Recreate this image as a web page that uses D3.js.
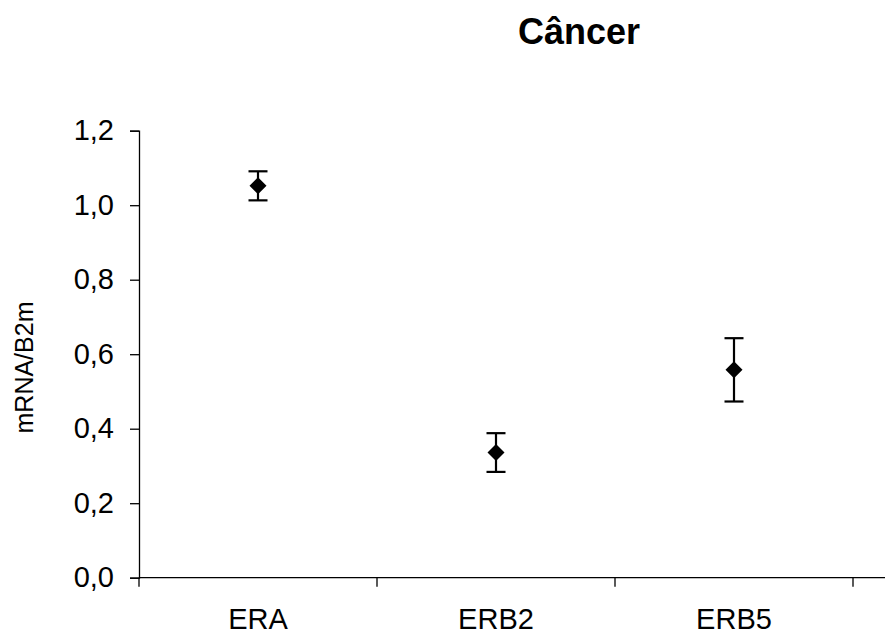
<!DOCTYPE html>
<html><head><meta charset="utf-8">
<script src="https://cdn.jsdelivr.net/npm/d3@7"></script>
<style>body{margin:0;background:#fff}svg{display:block}text{font-family:Arial,"Liberation Sans",sans-serif}</style>
</head><body><svg id="c" width="885" height="635"></svg>
<script>
const categories = ["ERA", "ERB2", "ERB5"];
const means = [1.052, 0.336, 0.558];
const errors = [0.039, 0.052, 0.085];
const yTicks = [0, 0.2, 0.4, 0.6, 0.8, 1.0, 1.2];
const title = "Câncer";
const yLabel = "mRNA/B2m";

const svg = d3.select("#c");
const x0 = 139, x1 = 853, yTop = 130.7, yBot = 577.7;
const x = d3.scaleBand().domain(categories).range([x0, x1]).padding(0);
const y = d3.scaleLinear().domain([0, 1.2]).range([yBot, yTop]);
const fmt = d => d3.format(".1f")(d).replace(".", ",");

// y axis
const ya = svg.append("g").attr("transform", `translate(${x0},0)`)
  .call(d3.axisLeft(y).tickValues(yTicks).tickFormat(fmt).tickSize(9).tickPadding(16));
ya.select(".domain").attr("stroke", "#000").attr("stroke-width", 1.3);
ya.selectAll(".tick line").attr("stroke", "#000").attr("stroke-width", 1.3);
ya.selectAll("text").attr("font-size", 29).attr("fill", "#000").attr("font-family", "Arial, 'Liberation Sans', sans-serif");

// x axis
const xa = svg.append("g").attr("transform", `translate(0,${yBot})`);
xa.append("line").attr("x1", x0).attr("x2", 885).attr("stroke", "#000").attr("stroke-width", 1.3);
const bounds = categories.map(c => x(c)).concat([x(categories[categories.length-1]) + x.bandwidth()]);
xa.selectAll("line.t").data(bounds).enter().append("line").attr("class","t")
  .attr("x1", d => d).attr("x2", d => d).attr("y1", 0).attr("y2", 9)
  .attr("stroke", "#000").attr("stroke-width", 1.3);
xa.selectAll("text").data(categories).enter().append("text")
  .attr("x", d => x(d) + x.bandwidth()/2).attr("y", 51)
  .attr("text-anchor", "middle").attr("font-size", 29).attr("fill", "#000").text(d => d);

// error bars
const g = svg.append("g");
categories.forEach((c, i) => {
  const cx = x(c) + x.bandwidth()/2;
  const top = y(means[i] + errors[i]), bot = y(means[i] - errors[i]);
  g.append("line").attr("x1", cx).attr("x2", cx).attr("y1", top).attr("y2", bot).attr("stroke", "#000").attr("stroke-width", 2.2);
  [top, bot].forEach(v => g.append("line").attr("x1", cx-9.5).attr("x2", cx+9.5).attr("y1", v).attr("y2", v).attr("stroke", "#000").attr("stroke-width", 2.2));
  const cy = y(means[i]);
  g.append("path").attr("d", `M${cx},${cy-8.5}L${cx+8.5},${cy}L${cx},${cy+8.5}L${cx-8.5},${cy}Z`).attr("fill", "#000");
});

// title
svg.append("text").attr("x", 579).attr("y", 44).attr("text-anchor", "middle")
  .attr("font-size", 36).attr("font-weight", "bold").attr("fill", "#000").text(title);

// y label
svg.append("text").attr("transform", "translate(33,367.5) rotate(-90)").attr("text-anchor", "middle")
  .attr("font-size", 25).attr("fill", "#000").text(yLabel);
</script></body></html>
